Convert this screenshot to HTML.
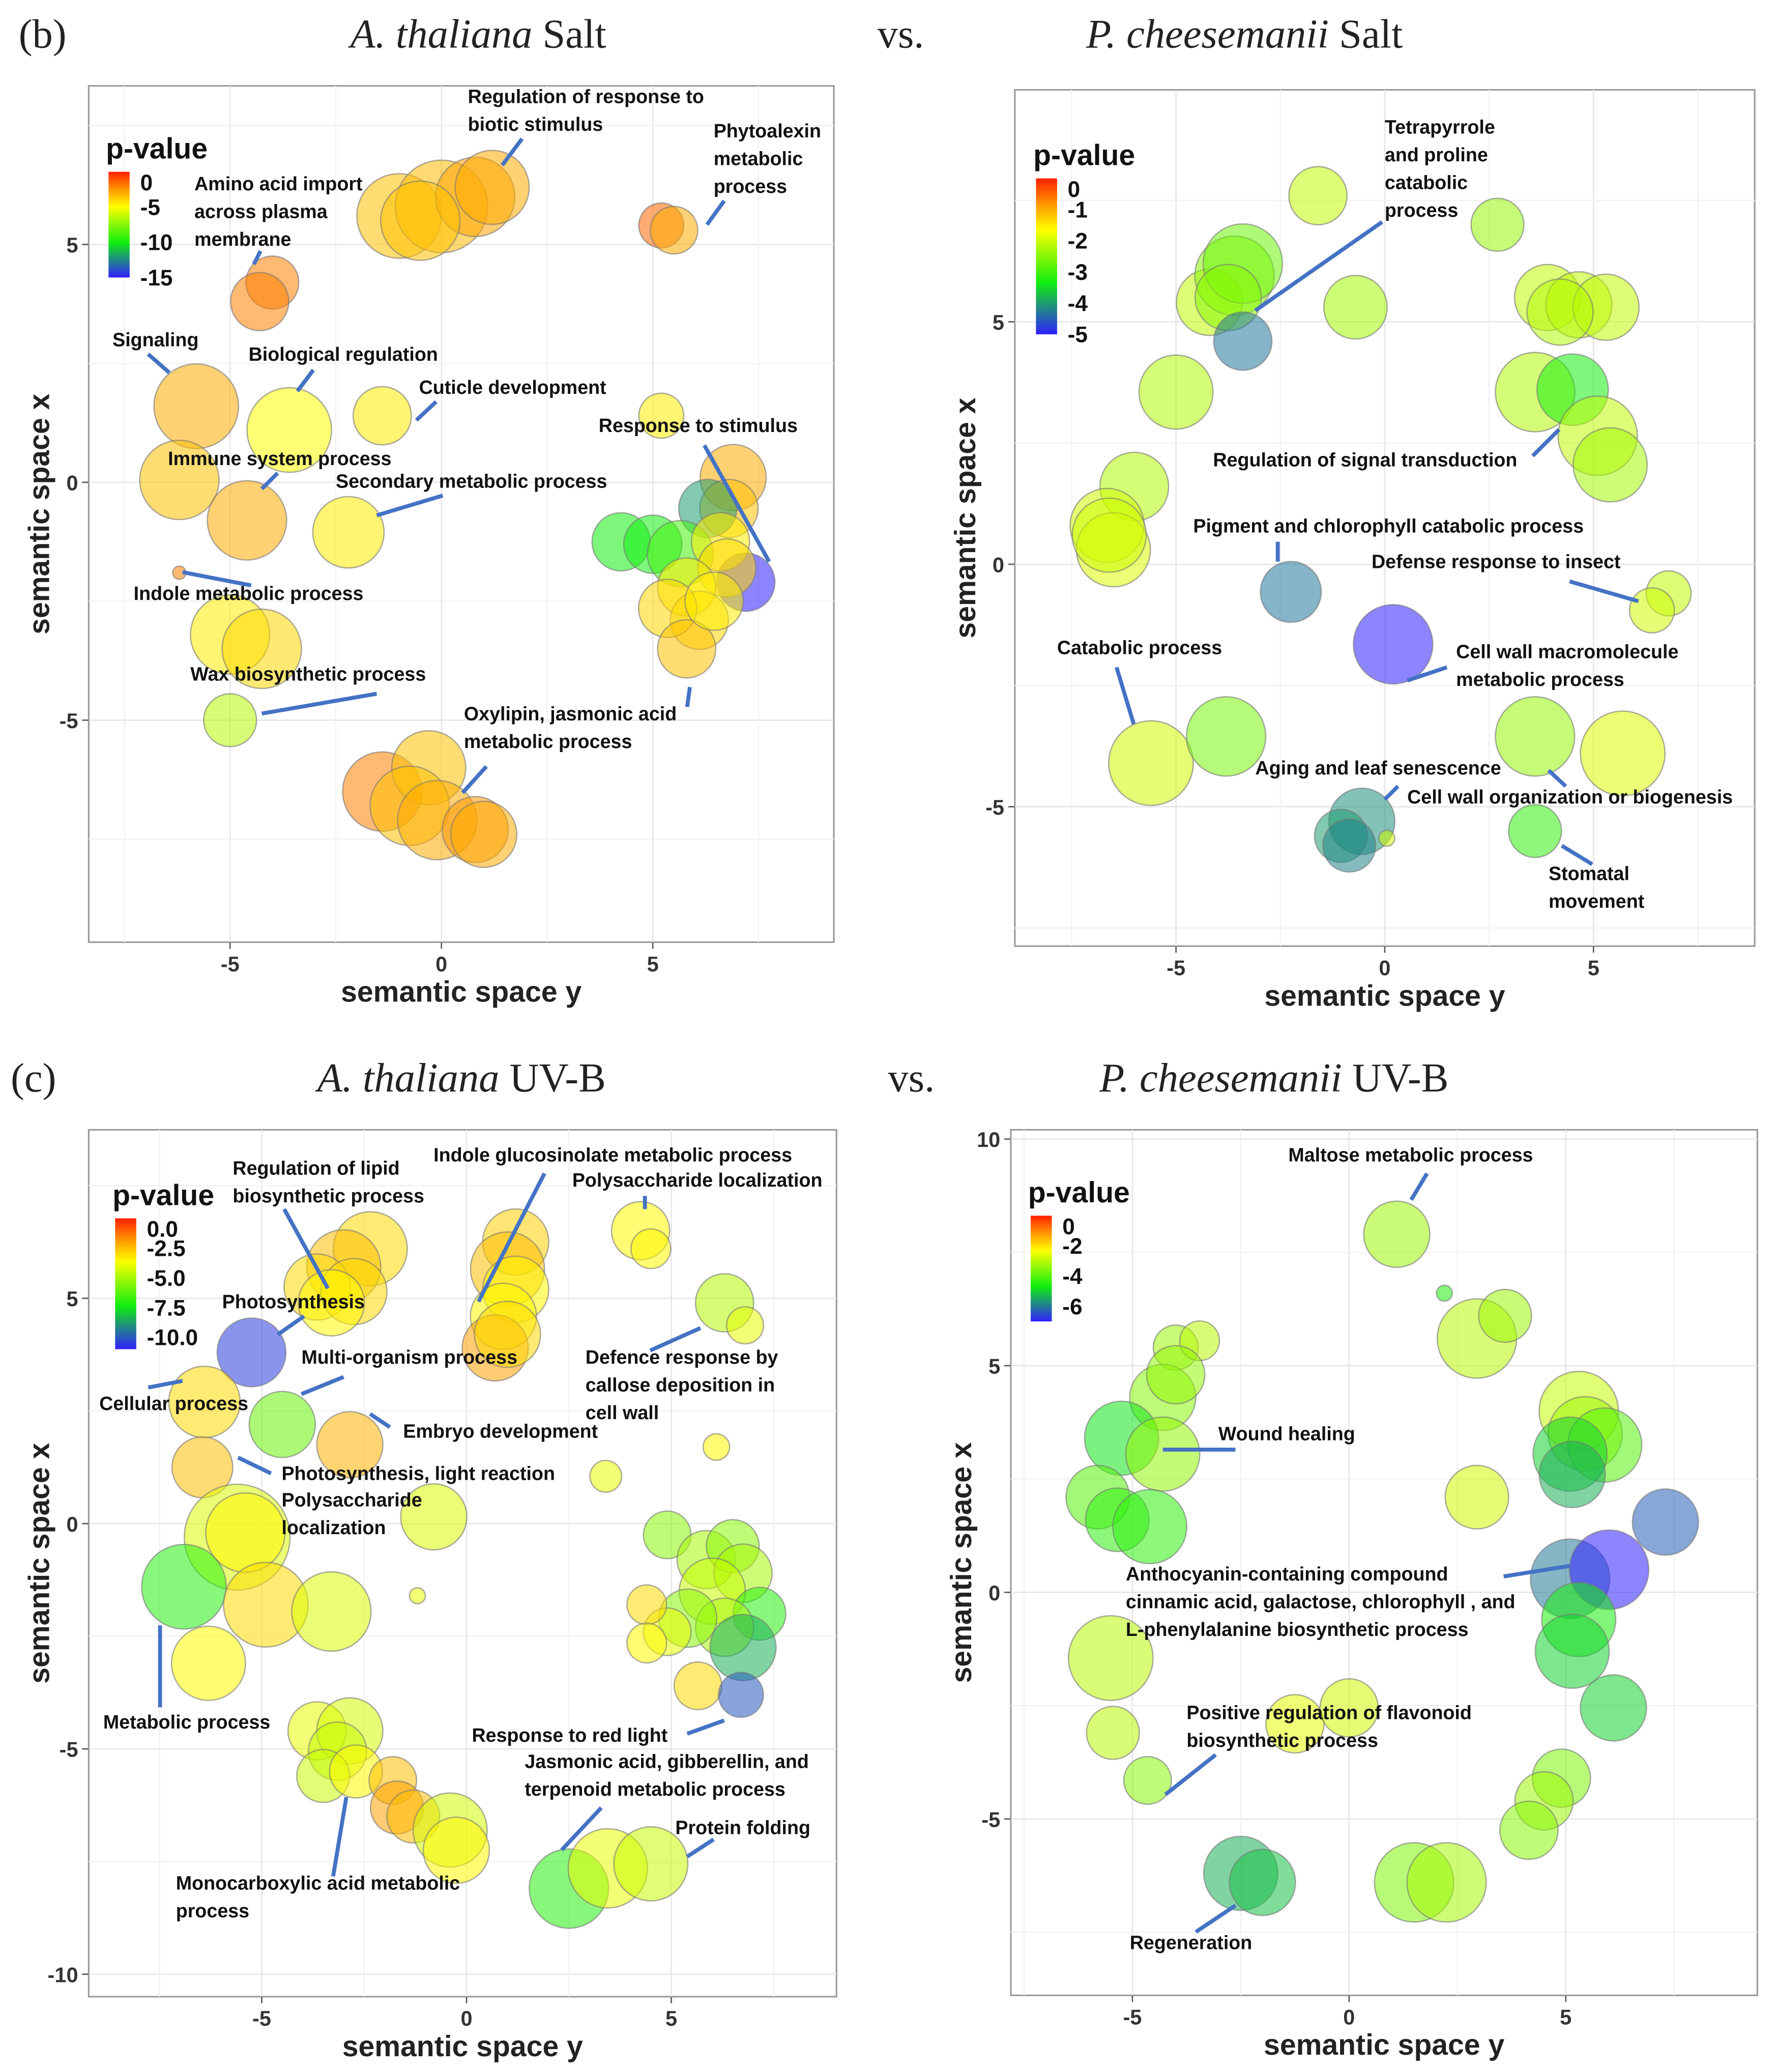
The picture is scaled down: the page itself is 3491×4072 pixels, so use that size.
<!DOCTYPE html>
<html><head><meta charset="utf-8"><style>
html,body{margin:0;padding:0;background:#fff}
svg{display:block}
.t{font-family:"Liberation Sans",sans-serif;font-size:14.5px;font-weight:bold;fill:#111}
.tk{font-family:"Liberation Sans",sans-serif;font-size:16px;font-weight:bold;fill:#333}
.ax{font-family:"Liberation Sans",sans-serif;font-size:22px;font-weight:bold;fill:#222}
.ti{font-family:"Liberation Serif",serif;font-size:31px;fill:#222}
.lg{font-family:"Liberation Sans",sans-serif;font-size:17px;font-weight:bold;fill:#111}
.lgt{font-family:"Liberation Sans",sans-serif;font-size:22px;font-weight:bold;fill:#111}
.ld{stroke:#4472c4;stroke-width:3;fill:none}
</style></head><body>
<svg id="fig" width="3491" height="4072" viewBox="0 0 1344 1568" xmlns="http://www.w3.org/2000/svg">
<defs>
<linearGradient id="cg" x1="0" y1="0" x2="0" y2="1">
<stop offset="0" stop-color="#ff2000"/><stop offset="0.17" stop-color="#ff9900"/><stop offset="0.33" stop-color="#ffff00"/><stop offset="0.67" stop-color="#10ee10"/><stop offset="1" stop-color="#3020ff"/>
</linearGradient>
</defs>
<g>
<text class="ti" x="14" y="36">(b)</text>
<text class="ti" x="265" y="36"><tspan font-style="italic">A. thaliana</tspan> Salt</text>
<text class="ti" x="664" y="36">vs.</text>
<text class="ti" x="822" y="36"><tspan font-style="italic">P. cheesemanii</tspan> Salt</text>
<text class="ti" x="8" y="826">(c)</text>
<text class="ti" x="240" y="826"><tspan font-style="italic">A. thaliana</tspan> UV-B</text>
<text class="ti" x="672" y="826">vs.</text>
<text class="ti" x="832" y="826"><tspan font-style="italic">P. cheesemanii</tspan> UV-B</text>
</g>
<g id="panels"></g>
<g>
<text class="t" x="354" y="78">Regulation of response to</text><text class="t" x="354" y="99">biotic stimulus</text>
<path class="ld" d="M395 105 L380 125"/>
<text class="t" x="540" y="104">Phytoalexin</text><text class="t" x="540" y="125">metabolic</text><text class="t" x="540" y="146">process</text>
<path class="ld" d="M548 152 L535 170"/>
<text class="t" x="147" y="144">Amino acid import</text><text class="t" x="147" y="165">across plasma</text><text class="t" x="147" y="186">membrane</text>
<path class="ld" d="M197 190 L192 200"/>
<text class="t" x="85" y="262">Signaling</text><path class="ld" d="M112 268 L128 282"/>
<text class="t" x="188" y="273">Biological regulation</text><path class="ld" d="M237 280 L225 296"/>
<text class="t" x="317" y="298">Cuticle development</text><path class="ld" d="M330 304 L315 318"/>
<text class="t" x="453" y="327">Response to stimulus</text><path class="ld" d="M533 337 L582 425"/>
<text class="t" x="127" y="352">Immune system process</text><path class="ld" d="M210 358 L198 370"/>
<text class="t" x="254" y="369">Secondary metabolic process</text><path class="ld" d="M335 375 L285 390"/>
<text class="t" x="101" y="454">Indole metabolic process</text><path class="ld" d="M138 433 L190 443"/>
<text class="t" x="144" y="515">Wax biosynthetic process</text><path class="ld" d="M198 540 L285 525"/>
<text class="t" x="351" y="545">Oxylipin, jasmonic acid</text><text class="t" x="351" y="566">metabolic process</text>
<path class="ld" d="M522 520 L520 535"/><path class="ld" d="M368 580 L350 600"/>
<text class="t" x="1048" y="101">Tetrapyrrole</text><text class="t" x="1048" y="122">and proline</text><text class="t" x="1048" y="143">catabolic</text><text class="t" x="1048" y="164">process</text>
<path class="ld" d="M1046 168 L950 235"/>
<text class="t" x="918" y="353">Regulation of signal transduction</text><path class="ld" d="M1160 345 L1180 325"/>
<text class="t" x="903" y="403">Pigment and chlorophyll catabolic process</text><path class="ld" d="M967 410 L967 425"/>
<text class="t" x="1038" y="430">Defense response to insect</text><path class="ld" d="M1188 440 L1240 455"/>
<text class="t" x="800" y="495">Catabolic process</text><path class="ld" d="M845 505 L858 548"/>
<text class="t" x="1102" y="498">Cell wall macromolecule</text><text class="t" x="1102" y="519">metabolic process</text>
<path class="ld" d="M1095 505 L1065 515"/>
<text class="t" x="950" y="586">Aging and leaf senescence</text><path class="ld" d="M1058 595 L1048 605"/>
<text class="t" x="1065" y="608">Cell wall organization or biogenesis</text><path class="ld" d="M1172 583 L1185 595"/>
<text class="t" x="1172" y="666">Stomatal</text><text class="t" x="1172" y="687">movement</text><path class="ld" d="M1182 640 L1205 654"/>
<text class="t" x="176" y="889">Regulation of lipid</text><text class="t" x="176" y="910">biosynthetic process</text>
<path class="ld" d="M215 915 L248 975"/>
<text class="t" x="328" y="879">Indole glucosinolate metabolic process</text><path class="ld" d="M412 888 L362 985"/>
<text class="t" x="433" y="898">Polysaccharide localization</text><path class="ld" d="M488 905 L488 915"/>
<text class="t" x="168" y="990">Photosynthesis</text><path class="ld" d="M230 996 L210 1010"/>
<text class="t" x="228" y="1032">Multi-organism process</text><path class="ld" d="M260 1042 L228 1055"/>
<text class="t" x="443" y="1032">Defence response by</text><text class="t" x="443" y="1053">callose deposition in</text><text class="t" x="443" y="1074">cell wall</text>
<path class="ld" d="M492 1022 L530 1005"/>
<text class="t" x="75" y="1067">Cellular process</text><path class="ld" d="M112 1050 L138 1045"/>
<text class="t" x="305" y="1088">Embryo development</text><path class="ld" d="M295 1080 L280 1070"/>
<text class="t" x="213" y="1120">Photosynthesis, light reaction</text><path class="ld" d="M205 1115 L180 1103"/>
<text class="t" x="213" y="1140">Polysaccharide</text><text class="t" x="213" y="1161">localization</text>
<text class="t" x="78" y="1308">Metabolic process</text><path class="ld" d="M121 1292 L121 1230"/>
<text class="t" x="357" y="1318">Response to red light</text><path class="ld" d="M520 1312 L548 1302"/>
<text class="t" x="397" y="1338">Jasmonic acid, gibberellin, and</text><text class="t" x="397" y="1359">terpenoid metabolic process</text>
<path class="ld" d="M455 1368 L425 1400"/>
<text class="t" x="511" y="1388">Protein folding</text><path class="ld" d="M540 1392 L520 1405"/>
<text class="t" x="133" y="1430">Monocarboxylic acid metabolic</text><text class="t" x="133" y="1451">process</text>
<path class="ld" d="M252 1420 L262 1360"/>
<text class="t" x="975" y="879">Maltose metabolic process</text><path class="ld" d="M1080 888 L1068 908"/>
<text class="t" x="922" y="1090">Wound healing</text><path class="ld" d="M935 1097 L880 1097"/>
<text class="t" x="852" y="1196">Anthocyanin-containing compound</text><text class="t" x="852" y="1217">cinnamic acid, galactose, chlorophyll , and</text><text class="t" x="852" y="1238">L-phenylalanine biosynthetic process</text>
<path class="ld" d="M1138 1193 L1188 1185"/>
<text class="t" x="898" y="1301">Positive regulation of flavonoid</text><text class="t" x="898" y="1322">biosynthetic process</text>
<path class="ld" d="M920 1328 L882 1358"/>
<text class="t" x="855" y="1475">Regeneration</text><path class="ld" d="M905 1462 L935 1442"/>
</g>
</svg>
<script>
// ---- Panel 1 data (A. thaliana Salt) ----
const p1x=[-1,0,0.8,1.2,-0.5,5.2,5.5,-4.0,-4.3,-5.8,-3.6,-1.4,5.2,-6.2,-4.6,-2.2,-6.2,-5,-4.25,-5,-1.4,-0.3,-0.75,-0.1,0.8,1.0,6.9,6.8,6.3,4.25,5.0,5.65,7.2,6.6,6.75,5.8,6.1,5.35,5.8,6.45];
const p1y=[5.6,5.8,6.0,6.2,5.5,5.4,5.3,4.2,3.8,1.6,1.1,1.4,1.4,0.05,-0.8,-1.05,-1.9,-3.2,-3.5,-5,-6.5,-6.0,-6.8,-7.1,-7.3,-7.4,0.1,-0.55,-0.55,-1.25,-1.3,-1.5,-2.1,-1.25,-1.8,-2.2,-2.9,-2.65,-3.5,-2.5];
const p1size=[32,35,30,28,30,17,18,20,22,32,32,22,17,30,30,27,5,30,30,20,30,28,30,30,25,25,25,22,22,22,22,25,22,22,22,22,22,22,22,22];
const p1p=[-3.5,-3.3,-2.8,-3,-3.5,-1.5,-3,-2,-2,-3,-5,-4.5,-4.5,-3.5,-3,-4.5,-2,-4.5,-4,-6.5,-2,-3.5,-3.5,-3,-2.5,-3,-3,-3.5,-12,-10,-10,-9,-15,-4.5,-4,-4.5,-4,-4,-3.5,-4.5];
const p1xticks=[-5,0,5], p1yticks=[-5,0,5];
// ---- Panel 2 data (P. cheesemanii Salt) ----
const p2x=[-1.6,2.7,-4.2,-3.6,-3.4,-3.75,-3.4,-0.7,3.9,4.65,5.3,4.2,-5,3.6,4.5,5.1,5.4,-6.0,-6.65,-6.5,-6.6,-2.25,0.2,6.8,6.4,-5.6,-3.8,3.6,5.7,3.6,-0.55,-1.05,-0.85,0.05];
const p2y=[7.6,7.0,5.4,5.95,6.2,5.5,4.6,5.3,5.5,5.35,5.3,5.2,3.55,3.55,3.6,2.65,2.05,1.6,0.8,0.3,0.6,-0.57,-1.65,-0.6,-0.95,-4.1,-3.55,-3.55,-3.9,-5.5,-5.3,-5.6,-5.8,-5.65];
const p2size=[22,20,25,30,30,25,22,24,25,25,25,25,28,30,27,30,28,26,28,28,28,23,30,17,17,32,30,30,32,20,25,20,20,6];
const p2p=[-2.1,-2.4,-2.1,-2.5,-2.7,-2.5,-4.3,-2.3,-2.1,-2.1,-2.1,-2.2,-2.2,-2.2,-3.3,-2.1,-2.3,-2.2,-2.0,-1.9,-2.0,-4.3,-5,-2.1,-2.0,-2.0,-2.6,-2.4,-1.9,-3.1,-4.1,-4,-4.2,-2.0];
const p2xticks=[-5,0,5], p2yticks=[-5,0,5];
// ---- Panel 3 data (A. thaliana UV-B) ----
const p3x=[-2.35,-3.0,-3.65,-2.75,-3.3,1.2,1.0,1.2,0.9,0.7,1.0,4.25,4.5,6.3,6.8,-5.25,-6.4,-4.5,-2.85,-6.45,3.4,6.1,-0.8,-1.2,-5.6,-5.4,-6.9,-4.9,-3.3,-6.3,4.9,5.85,6.5,6.75,6.0,7.15,6.3,5.4,4.9,4.4,4.4,6.75,5.65,6.7,-3.65,-2.85,-3.15,-3.5,-2.7,-1.8,-1.7,-1.3,-0.4,-0.25,2.5,3.45,4.5];
const p3y=[6.1,5.7,5.25,5.15,4.9,6.25,5.65,5.2,4.6,3.9,4.2,6.5,6.1,4.9,4.4,3.8,2.7,2.2,1.75,1.25,1.05,1.7,0.15,-1.6,-0.3,-0.2,-1.4,-1.8,-1.95,-3.1,-0.25,-0.8,-0.5,-1.1,-1.5,-2.0,-2.3,-2.1,-2.4,-1.8,-2.65,-2.75,-3.6,-3.8,-4.6,-4.6,-5.05,-5.6,-5.5,-5.7,-6.3,-6.5,-6.8,-7.25,-8.1,-7.65,-7.55];
const p3size=[28,28,25,25,25,25,28,25,25,25,25,22,15,22,14,26,27,25,25,23,12,10,25,6,40,30,32,32,30,28,18,22,20,22,25,20,22,22,18,15,15,25,18,17,22,25,22,20,20,18,20,20,28,25,30,30,28];
const p3p=[-3,-2.5,-3,-3,-3.5,-2.8,-2.5,-3.5,-3.5,-2,-3,-3.5,-3.5,-4.8,-4,-10.5,-3,-6,-2.3,-2.5,-4,-3.5,-4.2,-4,-4.2,-3.5,-7,-3,-4.2,-3.6,-5.5,-5,-5.5,-5,-4.5,-7,-5,-5.5,-4,-3,-3.5,-8.5,-3,-10,-4,-4.3,-4.5,-4.5,-3.5,-2.5,-2,-2.5,-4.3,-3.5,-7,-4,-4.5];
const p3xticks=[-5,0,5], p3yticks=[-10,-5,0,5];
// ---- Panel 4 data (P. cheesemanii UV-B) ----
const p4x=[1.1,2.2,2.95,3.6,-4.0,-3.45,-4.3,-4.0,-5.25,-4.3,-5.8,-5.35,-4.6,2.95,5.3,5.45,5.9,5.1,5.15,7.3,5.1,6.0,5.3,5.15,6.1,-5.5,-5.45,-4.65,-1.25,0,4.9,4.5,4.15,1.5,2.25,-2.5,-2.0];
const p4y=[7.9,6.6,5.6,6.1,5.4,5.55,4.3,4.8,3.4,3.05,2.1,1.6,1.45,2.1,4.0,3.5,3.25,3.05,2.6,1.55,0.3,0.5,-0.6,-1.3,-2.55,-1.45,-3.1,-4.15,-2.9,-2.55,-4.1,-4.6,-5.25,-6.4,-6.4,-6.2,-6.4];
const p4size=[25,6,30,20,17,15,25,22,28,28,24,24,28,24,30,28,28,28,25,25,30,30,28,28,25,32,20,18,22,22,22,22,22,30,30,28,25];
const p4p=[-3.3,-4.5,-3,-3.3,-3.3,-3,-3.5,-3.4,-4.8,-3.4,-4,-4.4,-4.4,-2.8,-2.9,-3.3,-4,-5,-5.4,-6.3,-6,-7,-4.6,-5,-5,-3,-3,-3.5,-2.6,-2.8,-3.6,-3.3,-3.5,-3.6,-3.2,-5.4,-5.2];
const p4xticks=[-5,0,5], p4yticks=[-5,0,5,10];

const panels=[
 {x:p1x,y:p1y,s:p1size,p:p1p,xt:p1xticks,yt:p1yticks,L:67,R:631,T:65,B:713,x0:334,xs:32,y0:365,ys:36,pmin:-15,lt:[0,-5,-10,-15],lx:80,ly:100},
 {x:p2x,y:p2y,s:p2size,p:p2p,xt:p2xticks,yt:p2yticks,L:768,R:1328,T:68,B:716,x0:1048,xs:31.6,y0:427,ys:36.7,pmin:-5,lt:[0,-1,-2,-3,-4,-5],lx:782,ly:105},
 {x:p3x,y:p3y,s:p3size,p:p3p,xt:p3xticks,yt:p3yticks,L:67,R:633,T:855,B:1511,x0:353,xs:31,y0:1153,ys:34.1,pmin:-11,lt:['0.0','-2.5','-5.0','-7.5','-10.0'],ltv:[0,-2.5,-5,-7.5,-10],lx:85,ly:892},
 {x:p4x,y:p4y,s:p4size,p:p4p,xt:p4xticks,yt:p4yticks,L:765,R:1330,T:855,B:1510,x0:1021,xs:32.8,y0:1205,ys:34.3,pmin:-7,lt:[0,-2,-4,-6],lx:778,ly:890}
];
const stops=[[0,[255,32,0]],[0.17,[255,153,0]],[0.33,[255,255,0]],[0.67,[16,238,16]],[1,[48,32,255]]];
function col(t){t=Math.max(0,Math.min(1,t));for(let i=1;i<stops.length;i++){if(t<=stops[i][0]){const a=stops[i-1],b=stops[i],f=(t-a[0])/(b[0]-a[0]);return 'rgb('+a[1].map((v,k)=>Math.round(v+(b[1][k]-v)*f)).join(',')+')';}}return 'rgb(48,32,255)';}
const NS='http://www.w3.org/2000/svg';
function mk(tag,at,parent){const e=document.createElementNS(NS,tag);for(const k in at)e.setAttribute(k,at[k]);parent.appendChild(e);return e;}
const root=document.getElementById('panels');
panels.forEach((P,i)=>{
 const g=mk('g',{},root);
 
 
 const X=v=>P.x0+v*P.xs, Y=v=>P.y0-v*P.ys;
 const bg=mk('rect',{x:P.L,y:P.T,width:P.R-P.L,height:P.B-P.T,fill:'#fff',stroke:'#999','stroke-width':1.2},g);
 
 
 for(let v=-15;v<=15;v+=2.5){const px=X(v);if(px>P.L&&px<P.R)mk('line',{x1:px,x2:px,y1:P.T,y2:P.B,stroke:v%5===0?'#e6e6e6':'#f2f2f2','stroke-width':1},g);
  const py=Y(v);if(py>P.T&&py<P.B)mk('line',{y1:py,y2:py,x1:P.L,x2:P.R,stroke:v%5===0?'#e6e6e6':'#f2f2f2','stroke-width':1},g);}
 P.xt.forEach(v=>{mk('line',{x1:X(v),x2:X(v),y1:P.B,y2:P.B+5,stroke:'#555'},g);const t=mk('text',{x:X(v),y:P.B+22,'text-anchor':'middle',class:'tk'},g);t.textContent=v;
  
  });
 P.yt.forEach(v=>{mk('line',{x1:P.L-5,x2:P.L,y1:Y(v),y2:Y(v),stroke:'#555'},g);const t=mk('text',{x:P.L-8,y:Y(v)+6,'text-anchor':'end',class:'tk'},g);t.textContent=v;
  
  });
 const xa=mk('text',{x:(P.L+P.R)/2,y:P.B+45,'text-anchor':'middle',class:'ax'},g);xa.textContent='semantic space y';
 
 
 const ya=mk('text',{x:0,y:0,'text-anchor':'middle',class:'ax',transform:'translate('+(P.L-30)+','+((P.T+P.B)/2)+') rotate(-90)'},g);ya.textContent='semantic space x';
 
 
 P.x.forEach((xv,k)=>{const c=col(P.p[k]/P.pmin);
  const b=mk('circle',{cx:X(xv),cy:Y(P.y[k]),r:P.s[k],fill:c,'fill-opacity':0.55,stroke:'#777','stroke-opacity':0.6,'stroke-width':1},g);
  
  });
 const lg=mk('g',{},g);
 
 
 const lt=mk('text',{x:P.lx,y:P.ly+20,class:'lgt'},lg);lt.textContent='p-value';
 const bh=P.lt.length*19+4;
 mk('rect',{x:P.lx+2,y:P.ly+30,width:16,height:bh,fill:'url(#cg)'},lg);
 P.lt.forEach((lab,k)=>{const v=P.ltv?P.ltv[k]:lab;const yy=P.ly+30+(v/P.pmin)*bh;
  const t=mk('text',{x:P.lx+26,y:Math.max(P.ly+44,yy+6),class:'lg'},lg);t.textContent=lab;});
});
</script>
</body></html>
